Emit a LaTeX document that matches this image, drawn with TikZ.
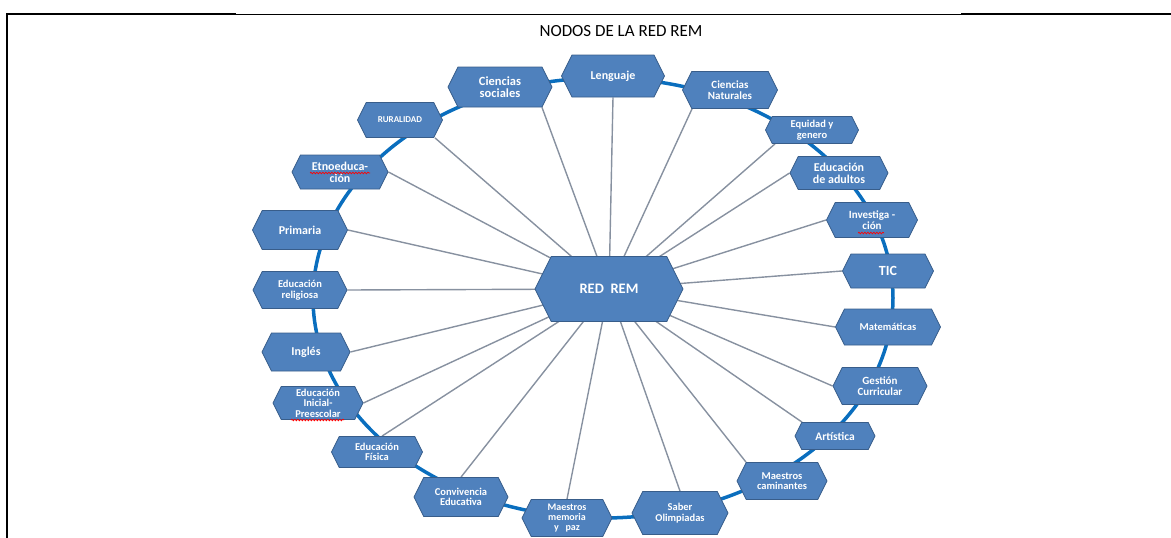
\documentclass[tikz,border=0pt]{standalone}
\usepackage{fontspec}
\setmainfont{Carlito}
\usetikzlibrary{shapes.symbols,backgrounds}
\usetikzlibrary{decorations.pathmorphing}

\definecolor{hexfill}{RGB}{79,129,189}
\definecolor{hexedge}{RGB}{56,93,138}
\definecolor{ringblue}{RGB}{10,110,190}
\definecolor{spokegray}{RGB}{135,145,160}

\begin{document}
\begin{tikzpicture}[x=1pt, y=-1pt, inner sep=1pt,
                    nodo/.style={signal, signal to=west and east, signal pointer angle=127,
                                 draw=hexedge, line width=0.8pt, fill=hexfill, text=white, align=center},
                    hx/.style 2 args={minimum width=#1pt, minimum height=#2pt},
                    sz/.style={font=\fontsize{#1}{#1}\selectfont\bfseries},
                    spoke/.style={draw=spokegray, line width=1.4pt},
                    ring/.style={draw=ringblue, line width=3.5pt},
                    wavy/.style={draw=red, line width=0.7pt, decorate,
                                 decoration={snake, amplitude=0.8pt, segment length=3pt}}]

\useasboundingbox (0,0) rectangle (1171,538);

% page frame
\draw[line width=2pt] (6,14) -- (236,14);
\draw[line width=1pt] (236,14) -- (961,14);
\draw[line width=2pt] (961,14) -- (1171,14);
\draw[line width=2pt] (7,13) -- (7,538);

\node[font=\fontsize{17}{17}\selectfont] (title) at (621,31) {NODOS DE LA RED REM};

% centre
\node[nodo, hx={148}{65}, sz=14.5] (rem) at (609,289) {RED \ REM};

% outer ring of nodes
\node[nodo, hx={103}{42}, sz=12]   (lang) at (613,76)  {Lenguaje};
\node[nodo, hx={95}{37},  sz=11]   (nat)  at (730,90)  {Ciencias\\Naturales};
\node[nodo, hx={93}{27},  sz=10.5] (equ)  at (812,130) {Equidad y\\genero};
\node[nodo, hx={98}{33},  sz=12]   (adu)  at (839,173) {Educación\\de adultos};
\node[nodo, hx={91}{35},  sz=11]   (inv)  at (872,220) {Investiga -\\ción};
\node[nodo, hx={91}{34},  sz=14]   (tic)  at (888,271) {TIC};
\node[nodo, hx={105}{36}, sz=10.5] (mat)  at (888,327) {Matemáticas};
\node[nodo, hx={94}{37},  sz=11]   (ges)  at (880,386) {Gestión\\Curricular};
\node[nodo, hx={80}{27},  sz=11.5] (art)  at (835,436) {Artística};
\node[nodo, hx={90}{37},  sz=10.5] (cam)  at (782,481) {Maestros\\caminantes};
\node[nodo, hx={96}{43},  sz=10.5] (sab)  at (680,513) {Saber\\Olimpiadas};
\node[nodo, hx={90}{37},  sz=10]   (mem)  at (567,518) {Maestros\\memoria\\y \ \ paz};
\node[nodo, hx={94}{39},  sz=10.5] (conv) at (461,497) {Convivencia\\Educativa};
\node[nodo, hx={91}{31},  sz=10.5] (fis)  at (377,452) {Educación\\Física};
\node[nodo, hx={90}{33},  sz=10.5] (ini)  at (318,403) {Educación\\Inicial-\\Preescolar};
\node[nodo, hx={88}{38},  sz=12]   (ing)  at (306,352) {Inglés};
\node[nodo, hx={94}{37},  sz=10.5] (rel)  at (300,290) {Educación\\religiosa};
\node[nodo, hx={95}{39},  sz=12]   (prim) at (300,230) {Primaria};
\node[nodo, hx={96}{34},  sz=12]   (etno) at (340,172) {Etnoeduca-\\ción};
\node[nodo, hx={85}{35},  sz=9]    (rur)  at (400,120) {RURALIDAD};
\node[nodo, hx={104}{40}, sz=12.5] (soc)  at (500,87)  {Ciencias\\sociales};

\begin{pgfonlayer}{background}
\draw[ring] (603,298) ellipse [x radius=290, y radius=220];
\path[spoke]
(rem.center) edge (lang.south)
(rem.center) edge ([xshift=-38pt]nat.south)
(rem.center) edge ([xshift=-37pt]equ.south)
(rem.center) edge (adu.west)
(rem.center) edge (inv.west)
(rem.center) edge (tic.west)
(rem.center) edge (mat.west)
(rem.center) edge (ges.west)
(rem.center) edge ([xshift=-33pt]art.north)
(rem.center) edge ([xshift=-36pt]cam.north)
(rem.center) edge (sab.north)
(rem.center) edge (mem.north)
(rem.center) edge (conv.north)
(rem.center) edge ([xshift=5pt]fis.north)
(rem.center) edge (ini.east)
(rem.center) edge (ing.east)
(rem.center) edge (rel.east)
(rem.center) edge (prim.east)
(rem.center) edge (etno.east)
(rem.center) edge ([xshift=35pt]rur.south)
(rem.center) edge ([xshift=42pt]soc.south);
\end{pgfonlayer}

% spelling marks
\draw[wavy] ([shift={(-30,1)}]etno.center) -- ++(60,0);
\draw[wavy] ([shift={(-14,13)}]inv.center) -- ++(26,0);
\draw[wavy] ([shift={(-27,17)}]ini.center) -- ++(53,0);
\end{tikzpicture}
\end{document}
